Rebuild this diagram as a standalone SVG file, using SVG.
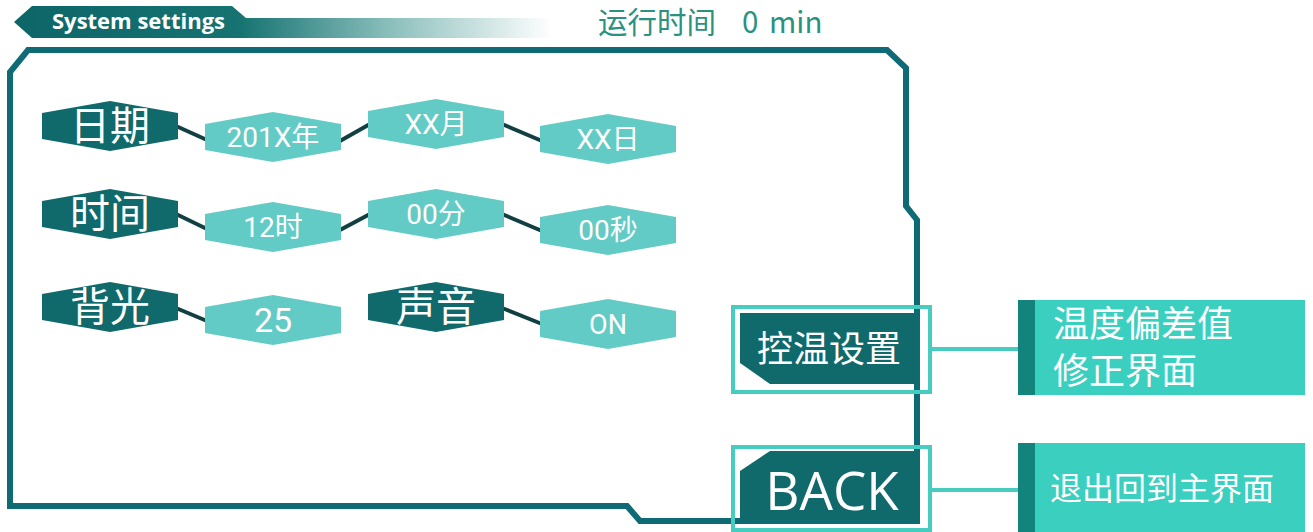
<svg xmlns="http://www.w3.org/2000/svg" xmlns:xlink="http://www.w3.org/1999/xlink" width="1313" height="532" viewBox="0 0 1313 532">
<defs>
<linearGradient id="hdr" x1="14" y1="0" x2="552" y2="0" gradientUnits="userSpaceOnUse">
<stop offset="0" stop-color="#0d6568"/>
<stop offset="0.42" stop-color="#167371"/>
<stop offset="0.7" stop-color="#8bbfbc"/>
<stop offset="1" stop-color="#ffffff"/>
</linearGradient>
<polygon id="hex" points="-68,-13 0,-25 68,-13 68,13 0,25 -68,13"/>
</defs>
<style>
.frame{fill:none;stroke:#0e6a74;stroke-width:6;stroke-linejoin:miter}
.dk{fill:#10696b}
.lt{fill:#63cbc5}
.lbl{font-family:"Noto Sans CJK SC",sans-serif;font-size:40px;fill:#fff;text-anchor:middle}
.val{font-family:Roboto,"Noto Sans CJK SC",sans-serif;font-size:28px;fill:#fff;text-anchor:middle}
.link{stroke:#123f42;stroke-width:4;fill:none}
.blink{stroke:#47cdbf;stroke-width:4;fill:none}
.obox{fill:none;stroke:#47cdbf;stroke-width:4}
.btn{fill:#10696b}
.info{fill:#3bcfbf}
.strip{fill:#13847b}
.itxt{font-family:"Noto Sans CJK SC",sans-serif;fill:#fff}
</style>
<rect width="1313" height="532" fill="#ffffff"/>
<g id="header">
<polygon points="14,22 32,6 232,6 246,18 552,18 552,38 32,38" fill="url(#hdr)"/>
<text x="52" y="29" font-family="'Open Sans',sans-serif" font-weight="700" font-size="22" fill="#fff">System settings</text>
</g>
<g id="runtime">
<text y="33" font-family="'Noto Sans CJK SC',sans-serif" font-size="29.5" fill="#2b927f"><tspan x="598">运行时间</tspan><tspan x="742">0</tspan><tspan x="769">min</tspan></text>
</g>
<g id="frame">
<path class="frame" d="M28,50 L887,50 L906,68 L906,206 L917,220 L917,521 L640,521 L627,506 L10,506 L10,72 Z"/>
</g>
<g id="connectors">
<line class="link" x1="176" y1="126" x2="207" y2="140"/>
<line class="link" x1="340" y1="141" x2="370" y2="124"/>
<line class="link" x1="502" y1="124" x2="542" y2="141"/>
<line class="link" x1="176" y1="214" x2="207" y2="229"/>
<line class="link" x1="340" y1="230" x2="370" y2="214"/>
<line class="link" x1="502" y1="214" x2="542" y2="231"/>
<line class="link" x1="176" y1="308" x2="207" y2="321"/>
<line class="link" x1="502" y1="308" x2="542" y2="324"/>
<line class="blink" x1="930" y1="349" x2="1018" y2="349"/>
<line class="blink" x1="930" y1="490" x2="1018" y2="490"/>
</g>
<g id="n-date"><use xlink:href="#hex" x="110" y="126" class="dk"/><text class="lbl" x="110" y="140">日期</text></g>
<g id="n-year"><use xlink:href="#hex" x="273" y="137" class="lt"/><text class="val" x="273" y="147">201X年</text></g>
<g id="n-month"><use xlink:href="#hex" x="436" y="124" class="lt"/><text class="val" x="436" y="134">XX月</text></g>
<g id="n-day"><use xlink:href="#hex" x="608" y="139" class="lt"/><text class="val" x="608" y="149">XX日</text></g>
<g id="n-time"><use xlink:href="#hex" x="110" y="214" class="dk"/><text class="lbl" x="110" y="228">时间</text></g>
<g id="n-hour"><use xlink:href="#hex" x="273" y="227" class="lt"/><text class="val" x="273" y="237">12时</text></g>
<g id="n-min"><use xlink:href="#hex" x="436" y="214" class="lt"/><text class="val" x="436" y="224">00分</text></g>
<g id="n-sec"><use xlink:href="#hex" x="608" y="230" class="lt"/><text class="val" x="608" y="240">00秒</text></g>
<g id="n-back-light"><use xlink:href="#hex" x="110" y="307" class="dk"/><text class="lbl" x="110" y="321">背光</text></g>
<g id="n-bl-val"><use xlink:href="#hex" x="273" y="320" class="lt"/><text class="val" x="273" y="332" style="font-size:34px">25</text></g>
<g id="n-sound"><use xlink:href="#hex" x="436" y="307" class="dk"/><text class="lbl" x="436" y="321">声音</text></g>
<g id="n-sound-val"><use xlink:href="#hex" x="608" y="324" class="lt"/><text class="val" x="608" y="334" style="font-size:27px">ON</text></g>
<g id="n-temp-btn">
<polygon class="btn" points="740,313 917,313 917,384 770,384 740,363"/>
<rect class="obox" x="733" y="307" width="197" height="85"/>
<text class="itxt" x="829" y="362" text-anchor="middle" style="font-size:36px">控温设置</text>
</g>
<g id="n-temp-info">
<rect class="info" x="1018" y="300" width="287" height="95"/>
<rect class="strip" x="1018" y="300" width="17" height="95"/>
<text class="itxt" style="font-size:36px"><tspan x="1053" y="337">温度偏差值</tspan><tspan x="1053" y="384">修正界面</tspan></text>
</g>
<g id="n-back-btn">
<polygon class="btn" points="770,451 920,451 920,521 740,521 740,471"/>
<rect class="obox" x="733" y="447" width="197" height="83"/>
<text x="832" y="510" text-anchor="middle" font-family="'Open Sans',sans-serif" font-size="53" fill="#fff">BACK</text>
</g>
<g id="n-back-info">
<rect class="info" x="1018" y="443" width="287" height="89"/>
<rect class="strip" x="1018" y="443" width="17" height="89"/>
<text class="itxt" x="1050" y="500" style="font-size:32px">退出回到主界面</text>
</g>
</svg>
